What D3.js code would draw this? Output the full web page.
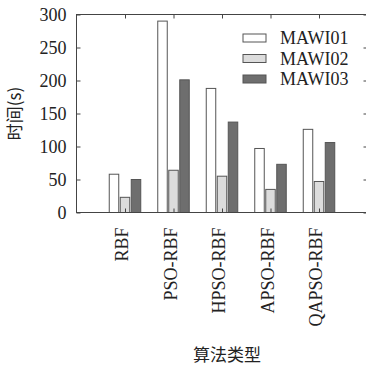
<!DOCTYPE html>
<html>
<head>
<meta charset="UTF-8">
<script src="https://cdn.jsdelivr.net/npm/d3@7"></script>
<style>
  body { margin: 0; background: #fff; }
  text { font-family: "Liberation Serif", "DejaVu Serif", serif; fill: #222; }
  .cjk { font-family: "Noto Sans CJK SC", sans-serif; }
</style>
</head>
<body>
<svg width="366" height="369"></svg>
<script>
var categories = ["RBF", "PSO-RBF", "HPSO-RBF", "APSO-RBF", "QAPSO-RBF"];
var seriesNames = ["MAWI01", "MAWI02", "MAWI03"];
var mawi01 = [58, 290, 188, 97, 126];
var mawi02 = [23, 64, 55, 35, 47];
var mawi03 = [50, 201, 137, 73, 106];
var yTicks = [0, 50, 100, 150, 200, 250, 300];

var series = [mawi01, mawi02, mawi03];
var fills = ["#ffffff", "#dcdcdc", "#6e6e6e"];

var svg = d3.select("svg");
var plotL = 76.5, plotR = 367.5, plotT = 14.5, plotB = 212.5;

var x = d3.scaleLinear().domain([0, categories.length + 1]).range([plotL, plotR]);
var y = d3.scaleLinear().domain([0, 300]).range([plotB, plotT]);
var offsets = [-11, 0, 11], barW = 9.5;

// bars
series.forEach(function(vals, s) {
    svg.append("g").selectAll("rect")
        .data(vals)
        .enter().append("rect")
        .attr("x", function(d, i) { return x(i + 1) + offsets[s] - barW / 2; })
        .attr("y", function(d) { return y(d); })
        .attr("width", barW)
        .attr("height", function(d) { return y(0) - y(d); })
        .attr("fill", fills[s])
        .attr("stroke", "#555")
        .attr("stroke-width", 1);
});

// frame
svg.append("rect")
    .attr("x", plotL).attr("y", plotT)
    .attr("width", plotR - plotL).attr("height", plotB - plotT)
    .attr("fill", "none").attr("stroke", "#444").attr("stroke-width", 1);

// left axis
var yAxis = d3.axisLeft(y).tickValues(yTicks).tickSize(-4).tickPadding(10);
var gy = svg.append("g").attr("transform", "translate(" + plotL + ",0)").call(yAxis);
gy.select(".domain").remove();
gy.selectAll("line").attr("stroke", "#444");
gy.selectAll("text").attr("font-size", 18).attr("fill", "#222")
    .style("font-family", "'Liberation Serif', serif");

// right axis ticks
var gr = svg.append("g").attr("transform", "translate(" + plotR + ",0)")
    .call(d3.axisRight(y).tickValues(yTicks).tickSize(-4).tickFormat(""));
gr.select(".domain").remove();
gr.selectAll("line").attr("stroke", "#444");

// bottom axis with rotated labels
var xAxis = d3.axisBottom(x).tickValues(d3.range(1, categories.length + 1))
    .tickSize(-4)
    .tickFormat(function(d) { return categories[d - 1]; });
var gx = svg.append("g").attr("transform", "translate(0," + plotB + ")").call(xAxis);
gx.select(".domain").remove();
gx.selectAll("line").attr("stroke", "#444");
gx.selectAll(".tick text")
    .attr("font-size", 18).attr("fill", "#222")
    .style("font-family", "'Liberation Serif', serif")
    .attr("text-anchor", "end")
    .attr("x", 0).attr("y", 0).attr("dy", "0.32em")
    .attr("transform", "translate(-3,15) rotate(-90)");

// top ticks
var gt = svg.append("g").attr("transform", "translate(0," + plotT + ")")
    .call(d3.axisTop(x).tickValues(d3.range(1, categories.length + 1)).tickSize(-4).tickFormat(""));
gt.select(".domain").remove();
gt.selectAll("line").attr("stroke", "#444");

// axis titles
svg.append("text").attr("class", "cjk")
    .attr("transform", "translate(21," + ((plotT + plotB) / 2) + ") rotate(-90)")
    .attr("text-anchor", "middle").attr("font-size", 17)
    .text("时间(s)");
svg.append("text").attr("class", "cjk")
    .attr("x", 227).attr("y", 361)
    .attr("text-anchor", "middle").attr("font-size", 17)
    .text("算法类型");

// legend
var legend = svg.append("g").selectAll("g")
    .data(seriesNames)
    .enter().append("g")
    .attr("transform", function(d, i) { return "translate(243," + (34 + i * 20.5) + ")"; });
legend.append("rect")
    .attr("x", 0).attr("y", 0).attr("width", 23).attr("height", 8)
    .attr("fill", function(d, i) { return fills[i]; })
    .attr("stroke", "#555");
legend.append("text")
    .attr("x", 37).attr("y", 4).attr("dy", "0.35em")
    .attr("font-size", 18)
    .text(function(d) { return d; });
</script>
</body>
</html>
